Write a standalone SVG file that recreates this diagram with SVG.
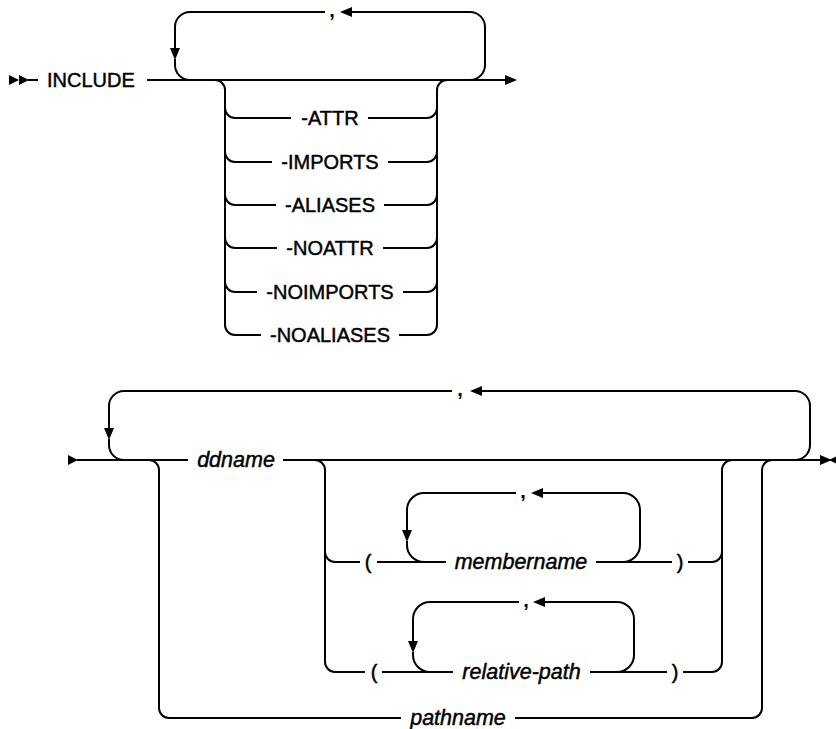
<svg xmlns="http://www.w3.org/2000/svg" width="836" height="729" viewBox="0 0 836 729">
<style>
  .ln { fill: none; stroke: #000; stroke-width: 2; }
  .ah { fill: #000; stroke: none; }
  .kw { font-family: "Liberation Sans", Arial, sans-serif; font-size: 20px; fill: #000; stroke: #000; stroke-width: 0.45px; }
  .var { font-family: "Liberation Sans", Arial, sans-serif; font-size: 21.5px; font-style: italic; fill: #000; stroke: #000; stroke-width: 0.45px; }
  .cm { font-family: "Liberation Sans", Arial, sans-serif; font-size: 20px; font-weight: bold; fill: #000; }
</style>
<rect width="836" height="729" fill="#fff"/>

<g id="connectors">
  <!-- Diagram 1 -->
  <polygon class="ah" points="9,75 19,80 9,85"/>
  <polygon class="ah" points="19,75 29,80 19,85"/>
  <path class="ln" d="M28 80 H38"/>
  <path class="ln" d="M147 80 H506"/>
  <polygon class="ah" points="505,75 517,80 505,85"/>
  <!-- repeat loop -->
  <path class="ln" d="M470 80 A15 15 0 0 0 485 65 V27 A15 15 0 0 0 470 12 H351"/>
  <polygon class="ah" points="352,7 340,12 352,17"/>
  <path class="ln" d="M325 12 H190 A15 15 0 0 0 175 27 V49"/>
  <polygon class="ah" points="170,48 175,60 180,48"/>
  <path class="ln" d="M175 59 V65 A15 15 0 0 0 190 80"/>
  <!-- choice branches -->
  <path class="ln" d="M215 80 A10 10 0 0 1 225 90 V325 A10 10 0 0 0 235 335"/>
  <path class="ln" d="M225 108 A10 10 0 0 0 235 118 H291 M368 118 H427 A10 10 0 0 0 437 108"/>
  <path class="ln" d="M225 152 A10 10 0 0 0 235 162 H272 M388 162 H427 A10 10 0 0 0 437 152"/>
  <path class="ln" d="M225 195 A10 10 0 0 0 235 205 H276 M384 205 H427 A10 10 0 0 0 437 195"/>
  <path class="ln" d="M225 238 A10 10 0 0 0 235 248 H277 M383 248 H427 A10 10 0 0 0 437 238"/>
  <path class="ln" d="M225 282 A10 10 0 0 0 235 292 H257 M403 292 H427 A10 10 0 0 0 437 282"/>
  <path class="ln" d="M235 335 H261 M399 335 H427 A10 10 0 0 0 437 325 V90 A10 10 0 0 1 447 80"/>

  <!-- Diagram 2 -->
  <polygon class="ah" points="68,455 78,460 68,465"/>
  <path class="ln" d="M77 460 H188 M283 460 H821"/>
  <polygon class="ah" points="820,455 832,460 820,465"/>
  <polygon class="ah" points="839,455 829,460 839,465"/>
  <!-- main repeat loop -->
  <path class="ln" d="M795 460 A15 15 0 0 0 810 445 V406 A15 15 0 0 0 795 391 H481"/>
  <polygon class="ah" points="482,386 470,391 482,396"/>
  <path class="ln" d="M452 391 H124 A15 15 0 0 0 109 406 V429"/>
  <polygon class="ah" points="104,428 109,440 114,428"/>
  <path class="ln" d="M109 439 V445 A15 15 0 0 0 124 460"/>
  <!-- pathname branch -->
  <path class="ln" d="M149 460 A10 10 0 0 1 159 470 V708 A10 10 0 0 0 169 718 H401 M515 718 H752 A10 10 0 0 0 762 708 V470 A10 10 0 0 1 772 460"/>
  <!-- parenthesized branches -->
  <path class="ln" d="M315 460 A10 10 0 0 1 325 470 V662 A10 10 0 0 0 335 672 H365"/>
  <path class="ln" d="M325 552 A10 10 0 0 0 335 562 H360"/>
  <path class="ln" d="M377 562 H446 M596 562 H672 M688 562 H712 A10 10 0 0 0 722 552"/>
  <path class="ln" d="M382 672 H453 M590 672 H667 M683 672 H712 A10 10 0 0 0 722 662 V470 A10 10 0 0 1 732 460"/>
  <!-- membername loop -->
  <path class="ln" d="M623 562 A17 17 0 0 0 640 545 V510 A17 17 0 0 0 623 493 H542"/>
  <polygon class="ah" points="543,488 531,493 543,498"/>
  <path class="ln" d="M516 493 H424 A17 17 0 0 0 407 510 V531"/>
  <polygon class="ah" points="402,530 407,542 412,530"/>
  <path class="ln" d="M407 541 V545 A17 17 0 0 0 424 562"/>
  <!-- relative-path loop -->
  <path class="ln" d="M617 672 A17 17 0 0 0 634 655 V619 A17 17 0 0 0 617 602 H544"/>
  <polygon class="ah" points="545,597 533,602 545,607"/>
  <path class="ln" d="M519 602 H430 A17 17 0 0 0 413 619 V642"/>
  <polygon class="ah" points="408,641 413,653 418,641"/>
  <path class="ln" d="M413 652 V655 A17 17 0 0 0 430 672"/>
</g>

<g id="node-include"><text class="kw" x="47" y="87">INCLUDE</text></g>
<g id="node-comma1"><text class="cm" x="332" y="17" text-anchor="middle">,</text></g>
<g id="node-attr"><text class="kw" x="330" y="125" text-anchor="middle">-ATTR</text></g>
<g id="node-imports"><text class="kw" x="330" y="169" text-anchor="middle">-IMPORTS</text></g>
<g id="node-aliases"><text class="kw" x="330" y="212" text-anchor="middle">-ALIASES</text></g>
<g id="node-noattr"><text class="kw" x="330" y="255" text-anchor="middle">-NOATTR</text></g>
<g id="node-noimports"><text class="kw" x="330" y="299" text-anchor="middle">-NOIMPORTS</text></g>
<g id="node-noaliases"><text class="kw" x="330" y="342" text-anchor="middle">-NOALIASES</text></g>

<g id="node-comma2"><text class="cm" x="460" y="396" text-anchor="middle">,</text></g>
<g id="node-ddname"><text class="var" x="236" y="467" text-anchor="middle">ddname</text></g>
<g id="node-lparen1"><text class="kw" x="368" y="569" text-anchor="middle">(</text></g>
<g id="node-comma3"><text class="cm" x="523" y="498" text-anchor="middle">,</text></g>
<g id="node-membername"><text class="var" x="521" y="569" text-anchor="middle">membername</text></g>
<g id="node-rparen1"><text class="kw" x="680" y="569" text-anchor="middle">)</text></g>
<g id="node-lparen2"><text class="kw" x="374" y="679" text-anchor="middle">(</text></g>
<g id="node-comma4"><text class="cm" x="526" y="607" text-anchor="middle">,</text></g>
<g id="node-relative-path"><text class="var" x="521.5" y="679" text-anchor="middle">relative-path</text></g>
<g id="node-rparen2"><text class="kw" x="675" y="679" text-anchor="middle">)</text></g>
<g id="node-pathname"><text class="var" x="458" y="725" text-anchor="middle">pathname</text></g>
</svg>
